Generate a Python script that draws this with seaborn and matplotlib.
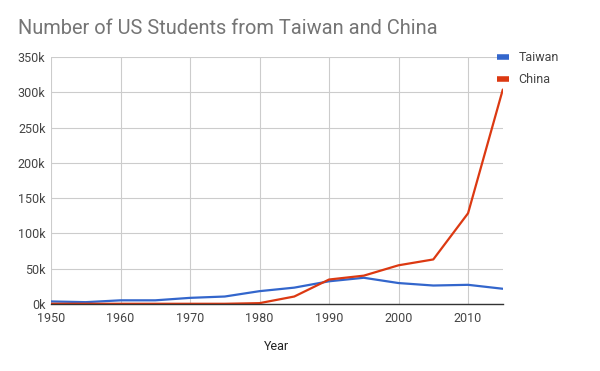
import pandas as pd
import matplotlib
matplotlib.use("Agg")
import matplotlib.pyplot as plt
import seaborn as sns
from matplotlib.lines import Line2D

# data (thousands of students)
years = [1950, 1955, 1960, 1965, 1970, 1975, 1980, 1985, 1990, 1995, 2000, 2005, 2010, 2015]
taiwan = [3.4, 2.4, 5.0, 5.0, 8.5, 10.4, 18.0, 23.0, 32.0, 37.0, 29.5, 26.0, 27.0, 21.4]
china = [0.1, 0.1, 0.1, 0.1, 0.1, 0.1, 1.0, 10.4, 34.5, 40.0, 54.7, 63.0, 128.5, 304.0]
y_ticks = [0, 50, 100, 150, 200, 250, 300, 350]
x_ticks = [1950, 1960, 1970, 1980, 1990, 2000, 2010]

df = pd.DataFrame({
    "Year": years * 2,
    "Students": [v * 1000 for v in taiwan + china],
    "Country": ["Taiwan"] * len(years) + ["China"] * len(years),
})

sns.set_theme(style="white")
plt.rcParams["font.family"] = ["Roboto", "DejaVu Sans"]

fig = plt.figure(figsize=(6, 3.71), dpi=100)
ax = fig.add_axes([0.085, 0.181, 0.753, 0.665])

sns.lineplot(data=df, x="Year", y="Students", hue="Country",
             palette={"Taiwan": "#3366cc", "China": "#dc3912"},
             linewidth=1.6, ax=ax, legend=False)

ax.set_xlim(1950, 2015)
ax.set_ylim(0, 350000)
ax.set_xticks(x_ticks)
ax.set_yticks([v * 1000 for v in y_ticks])
ax.set_yticklabels([f"{v}k" for v in y_ticks])
ax.grid(True, color="#cccccc", linewidth=0.8)
ax.set_axisbelow(True)
for s in ["top", "right", "left"]:
    ax.spines[s].set_visible(False)
ax.spines["bottom"].set_color("#333333")
ax.spines["bottom"].set_linewidth(1.0)
ax.tick_params(axis="y", length=0, labelsize=9, colors="#444444", pad=4)
ax.tick_params(axis="x", length=0, labelsize=9, colors="#444444", pad=6)
ax.set_ylabel("")
ax.set_xlabel("Year", fontsize=9, color="#222222", labelpad=11)

fig.text(0.03, 0.922, "Number of US Students from Taiwan and China",
         fontsize=14.4, color="#757575", va="center", ha="left")

# legend on the right
handles = [Line2D([], [], color="#3366cc", linewidth=4, solid_capstyle="butt"),
           Line2D([], [], color="#dc3912", linewidth=4, solid_capstyle="butt")]
fig.legend(handles, ["Taiwan", "China"], loc="upper left",
           bbox_to_anchor=(0.81, 0.893), frameon=False, fontsize=9,
           handlelength=0.9, handletextpad=0.8, labelspacing=0.75,
           labelcolor="#444444")

fig.savefig("out.png", dpi=100)
